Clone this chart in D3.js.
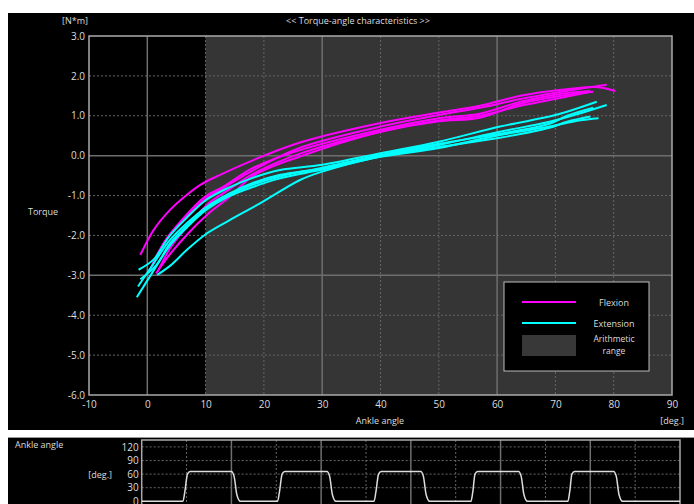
<!DOCTYPE html>
<html>
<head>
<meta charset="utf-8">
<script src="https://cdn.jsdelivr.net/npm/d3@7"></script>
<style>
  body { margin: 0; background: #fff; }
  text { font-family: "Open Sans", sans-serif; fill: #ddd; }
</style>
</head>
<body>
<svg id="chart" width="694" height="504"></svg>
<script>
// ---- data ----
const angleTicks = [-10, 0, 10, 20, 30, 40, 50, 60, 70, 80, 90]
const torqueTicks = [3, 2, 1, 0, -1, -2, -3, -4, -5, -6]
const arithmeticRange = [10, 90]

// flexion cycles: [ankle angle deg, torque N*m]
const flexion1 = [[-1.2,-2.49],[1.1,-1.86],[3.9,-1.36],[6.8,-0.98],[9.1,-0.73],[12.5,-0.48],[18.2,-0.11],[26.2,0.33],[40,0.82],[50,1.08],[57,1.25],[64,1.5],[71,1.65],[77,1.72],[80.3,1.62]]
const flexion2 = [[0.5,-2.86],[2.8,-2.2],[5.7,-1.69],[9.7,-1.11],[12.5,-0.86],[18.2,-0.36],[26.2,0.2],[40,0.73],[50,1.02],[57,1.2],[64,1.42],[71,1.6],[76,1.72],[78.8,1.78]]
const flexion3 = [[1,-2.7],[3.2,-2.1],[6,-1.6],[9.7,-1.05],[13,-0.78],[18.2,-0.3],[26.2,0.14],[40,0.65],[50,0.94],[57,1.05],[64,1.35],[71,1.55],[76,1.62]]
const flexion4 = [[1.8,-2.9],[4,-2.3],[7,-1.75],[10.5,-1.2],[14,-0.85],[18.2,-0.45],[26.2,0.05],[40,0.6],[50,0.86],[57,0.95],[64,1.3],[71,1.5],[76.5,1.6]]
const flexion5 = [[1.5,-2.95],[4,-2.45],[7,-1.95],[10.5,-1.45],[14,-1.05],[18.2,-0.5],[26.2,-0.02],[40,0.6],[50,0.88],[57,1.0],[64,1.25],[71,1.45],[76,1.6]]

// extension cycles
const extension1 = [[77.1,1.35],[72,1.1],[69,0.98],[60.5,0.73],[50,0.35],[40,0.06],[30,-0.23],[22.8,-0.36],[18.2,-0.55],[14,-0.8],[10.2,-1.1],[6.8,-1.55],[3.9,-2.0],[1.1,-2.6],[-1.5,-2.86]]
const extension2 = [[78.8,1.27],[74,1.05],[69,0.85],[60.5,0.6],[50,0.27],[40,0.0],[30,-0.32],[22.8,-0.48],[18.2,-0.68],[14.2,-0.94],[10.2,-1.28],[6.8,-1.69],[3.9,-2.11],[1.1,-2.7],[-1.6,-3.28]]
const extension3 = [[77.4,0.94],[74,0.88],[69,0.73],[60.5,0.52],[50,0.19],[40,-0.03],[30,-0.35],[22.8,-0.57],[18.2,-0.78],[14,-1.02],[10.2,-1.35],[6.8,-1.8],[3.9,-2.25],[1,-2.9],[-1.8,-3.55]]
const extension4 = [[76.5,1.2],[72,1.0],[69,0.8],[60.5,0.55],[50,0.3],[40,0.02],[30,-0.3],[22.8,-0.52],[18.2,-0.72],[14.2,-0.98],[10.2,-1.32],[6.8,-1.75],[3.9,-2.2],[1.5,-2.75],[-1.2,-3.1]]
const extension5 = [[76,0.98],[72,0.85],[69,0.7],[60.5,0.45],[50,0.22],[40,-0.02],[30,-0.4],[26.2,-0.61],[19.4,-1.19],[14.2,-1.61],[10.2,-1.95],[6.8,-2.36],[4,-2.75],[1.7,-2.99]]

const flexionCycles = [flexion1, flexion2, flexion3, flexion4, flexion5]
const extensionCycles = [extension1, extension2, extension3, extension4, extension5]

// lower strip: time (grid units) vs ankle angle
const timeTicks = [0, 1, 2, 3, 4, 5, 6, 7, 8, 9, 10, 11, 12]
const ankleTicks = [0, 30, 60, 90, 120]
const ankleTrace = [[0,0],[0.92,0],[0.96,20],[1.02,60],[1.08,66],[2.0,66],[2.06,55],[2.12,15],[2.2,0],
  [3.03,0],[3.07,20],[3.13,60],[3.19,66],[4.13,66],[4.19,55],[4.25,15],[4.33,0],
  [5.18,0],[5.22,20],[5.28,60],[5.34,66],[6.22,66],[6.28,55],[6.34,15],[6.42,0],
  [7.34,0],[7.38,20],[7.43,60],[7.49,66],[8.4,66],[8.46,55],[8.52,15],[8.6,0],
  [9.5,0],[9.54,20],[9.59,60],[9.65,66],[10.52,66],[10.58,55],[10.64,15],[10.72,0],[12,0]]

const svg = d3.select('#chart')

// panels
svg.append('rect').attr('x', 8).attr('y', 13).attr('width', 686).attr('height', 417).attr('fill', '#000')
svg.append('rect').attr('x', 8).attr('y', 437).attr('width', 686).attr('height', 67).attr('fill', '#000')
svg.append('line').attr('x1', 8).attr('x2', 694).attr('y1', 437.5).attr('y2', 437.5).attr('stroke', '#999')

// ---- main chart ----
let x = d3.scaleLinear().domain([-10, 90]).range([89, 672])
let y = d3.scaleLinear().domain([-6, 3]).range([395, 36])

let main = svg.append('g')
main.append('rect')
  .attr('x', x(-10)).attr('y', y(3))
  .attr('width', x(90) - x(-10)).attr('height', y(-6) - y(3))
  .attr('fill', '#000')
main.append('rect') // arithmetic range
  .attr('x', x(arithmeticRange[0])).attr('y', y(3))
  .attr('width', x(arithmeticRange[1]) - x(arithmeticRange[0])).attr('height', y(-6) - y(3))
  .attr('fill', '#353535')

// grid: solid every 30 deg / 3 N*m, dotted otherwise
main.selectAll('.vgrid').data(angleTicks.slice(1, -1)).enter().append('line')
  .attr('x1', d => x(d)).attr('x2', d => x(d))
  .attr('y1', y(3)).attr('y2', y(-6))
  .attr('stroke', d => d % 30 === 0 ? '#6e6e6e' : '#666')
  .attr('stroke-width', d => d % 30 === 0 ? 1.5 : 1)
  .attr('stroke-dasharray', d => d % 30 === 0 ? null : '2,2')
main.selectAll('.hgrid').data(torqueTicks.slice(1, -1)).enter().append('line')
  .attr('x1', x(-10)).attr('x2', x(90))
  .attr('y1', d => y(d)).attr('y2', d => y(d))
  .attr('stroke', d => d % 3 === 0 ? '#6e6e6e' : '#666')
  .attr('stroke-width', d => d % 3 === 0 ? 1.5 : 1)
  .attr('stroke-dasharray', d => d % 3 === 0 ? null : '2,2')

// curves
let line = d3.line().x(d => x(d[0])).y(d => y(d[1])).curve(d3.curveCatmullRom)
main.selectAll('.flex').data(flexionCycles).enter().append('path')
  .attr('d', line).attr('fill', 'none').attr('stroke', '#ff00ff').attr('stroke-width', 2)
main.selectAll('.ext').data(extensionCycles).enter().append('path')
  .attr('d', line).attr('fill', 'none').attr('stroke', '#00ffff').attr('stroke-width', 2)

// border
main.append('rect')
  .attr('x', x(-10)).attr('y', y(3))
  .attr('width', x(90) - x(-10)).attr('height', y(-6) - y(3))
  .attr('fill', 'none').attr('stroke', '#aaa').attr('stroke-width', 1.5)

// axes labels
let xAxis = d3.axisBottom(x).tickValues(angleTicks).tickSize(0).tickPadding(6).tickFormat(d => String(d))
let gx = main.append('g').attr('transform', `translate(0,${y(-6)})`).call(xAxis)
let yAxis = d3.axisLeft(y).tickValues(torqueTicks).tickSize(0).tickPadding(4).tickFormat(d => d.toFixed(1))
let gy = main.append('g').attr('transform', `translate(${x(-10)},0)`).call(yAxis)
;[gx, gy].forEach(g => {
  g.select('.domain').remove()
  g.selectAll('text').style('font-size', '10px').style('font-family', '"Open Sans", sans-serif').attr('fill', '#e0e0e0')
})

svg.append('text').attr('x', 358).attr('y', 24).attr('text-anchor', 'middle').style('font-size', '9px')
  .text('<< Torque-angle characteristics >>')
svg.append('text').attr('x', 88).attr('y', 24).attr('text-anchor', 'end').style('font-size', '9px').text('[N*m]')
svg.append('text').attr('x', 43).attr('y', 215).attr('text-anchor', 'middle').style('font-size', '9px').text('Torque')
svg.append('text').attr('x', 380).attr('y', 424).attr('text-anchor', 'middle').style('font-size', '9px').text('Ankle angle')
svg.append('text').attr('x', 684).attr('y', 424).attr('text-anchor', 'end').style('font-size', '9px').text('[deg.]')

// legend
let legend = svg.append('g')
legend.append('rect').attr('x', 504).attr('y', 282).attr('width', 145).attr('height', 89)
  .attr('fill', '#000').attr('stroke', '#bbb').attr('stroke-width', 1)
legend.append('line').attr('x1', 522).attr('x2', 576).attr('y1', 302).attr('y2', 302).attr('stroke', '#ff00ff').attr('stroke-width', 2)
legend.append('line').attr('x1', 522).attr('x2', 576).attr('y1', 323).attr('y2', 323).attr('stroke', '#00ffff').attr('stroke-width', 2)
legend.append('rect').attr('x', 522).attr('y', 335).attr('width', 54).attr('height', 21).attr('fill', '#383838')
legend.append('text').attr('x', 614).attr('y', 306).attr('text-anchor', 'middle').style('font-size', '9px').text('Flexion')
legend.append('text').attr('x', 614).attr('y', 327).attr('text-anchor', 'middle').style('font-size', '9px').text('Extension')
legend.append('text').attr('x', 614).attr('y', 342).attr('text-anchor', 'middle').style('font-size', '8.5px').text('Arithmetic')
legend.append('text').attr('x', 614).attr('y', 354).attr('text-anchor', 'middle').style('font-size', '8.5px').text('range')

// ---- lower strip ----
let tx = d3.scaleLinear().domain([0, 12]).range([141.7, 680])
let ty = d3.scaleLinear().domain([0, 120]).range([501.3, 446.9])
let strip = svg.append('g')
strip.selectAll('.tv').data(timeTicks.slice(1, -1)).enter().append('line')
  .attr('x1', d => tx(d)).attr('x2', d => tx(d)).attr('y1', 440).attr('y2', 504)
  .attr('stroke', d => d % 2 === 0 ? '#6e6e6e' : '#666')
  .attr('stroke-width', d => d % 2 === 0 ? 1.5 : 1)
  .attr('stroke-dasharray', d => d % 2 === 0 ? null : '2,2')
strip.selectAll('.th').data(ankleTicks.slice(1)).enter().append('line')
  .attr('x1', tx(0)).attr('x2', tx(12)).attr('y1', d => ty(d)).attr('y2', d => ty(d))
  .attr('stroke', '#666').attr('stroke-dasharray', '2,2')
strip.append('path').attr('d', `M${tx(0)},504V440H${tx(12)}V504`)
  .attr('fill', 'none').attr('stroke', '#aaa').attr('stroke-width', 1.5)
strip.append('path').datum(ankleTrace)
  .attr('d', d3.line().x(d => tx(d[0])).y(d => ty(d[1])).curve(d3.curveMonotoneX))
  .attr('fill', 'none').attr('stroke', '#ddd').attr('stroke-width', 1.5)

let tyAxis = d3.axisLeft(ty).tickValues(ankleTicks).tickSize(0).tickPadding(3)
let gty = strip.append('g').attr('transform', `translate(${tx(0)},0)`).call(tyAxis)
gty.select('.domain').remove()
gty.selectAll('text').style('font-size', '10px').style('font-family', '"Open Sans", sans-serif').attr('fill', '#e0e0e0')

svg.append('text').attr('x', 15).attr('y', 448).style('font-size', '9px').text('Ankle angle')
svg.append('text').attr('x', 112).attr('y', 478).attr('text-anchor', 'end').style('font-size', '9px').text('[deg.]')
</script>
</body>
</html>
